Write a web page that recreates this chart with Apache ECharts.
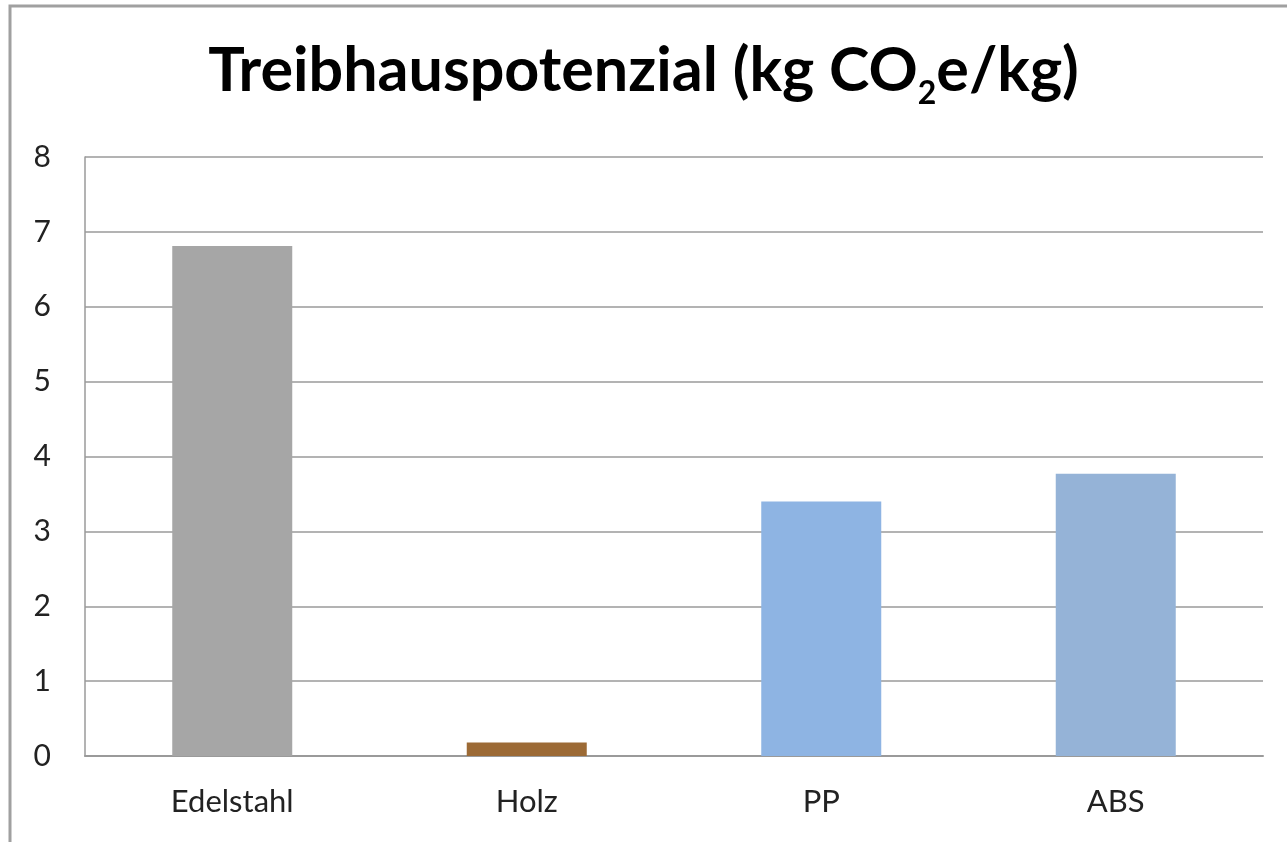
<!DOCTYPE html>
<html><head><meta charset="utf-8">
<script src="https://cdn.jsdelivr.net/npm/echarts@6/dist/echarts.min.js"></script>
<style>html,body{margin:0;padding:0;background:#fff}#c{width:1287px;height:842px}</style>
</head><body><div id="c"></div>
<script>
const categories = ['Edelstahl', 'Holz', 'PP', 'ABS'];
const values = [6.81, 0.18, 3.40, 3.77];
const barColors = ['#a6a6a6', '#9c6a35', '#8eb4e3', '#95b3d7'];
const yTicks = [0, 1, 2, 3, 4, 5, 6, 7, 8];

const chart = echarts.init(document.getElementById('c'), null, {renderer: 'canvas'});
chart.setOption({
  backgroundColor: '#fff',
  animation: false,
  graphic: [{
    type: 'rect', shape: {x: 10, y: 6, width: 1400, height: 900},
    style: {fill: 'none', stroke: '#a0a0a0', lineWidth: 3}, silent: true
  }],
  title: {
    text: 'Treibhauspotenzial (kg CO{s|2}e/kg)',
    left: 'center', top: 27,
    textStyle: {
      fontFamily: 'Lato', fontWeight: 'bold', fontSize: 61, color: '#000',
      rich: {
        s: {fontFamily: 'Lato', fontWeight: 'bold', fontSize: 32, color: '#000', verticalAlign: 'bottom', padding: [46, 0, 0, 0]}
      }
    }
  },
  grid: {left: 85, right: 24, top: 157, bottom: 86, containLabel: false},
  xAxis: {
    type: 'category', data: categories,
    axisLine: {show: true, lineStyle: {color: '#9a9a9a', width: 2}},
    axisTick: {show: false},
    axisLabel: {fontFamily: 'Lato', fontSize: 31, color: '#222', margin: 30}
  },
  yAxis: {
    type: 'value', min: 0, max: 8, interval: 1,
    axisLine: {show: true, lineStyle: {color: '#9a9a9a', width: 1.5}},
    axisTick: {show: false},
    splitLine: {lineStyle: {color: '#9a9a9a', width: 1.5}},
    axisLabel: {fontFamily: 'Lato', fontSize: 30, color: '#222', margin: 34,
      formatter: v => yTicks.includes(v) ? String(v) : ''}
  },
  series: [{
    type: 'bar', barWidth: 120,
    data: values.map((v, i) => ({value: v, itemStyle: {color: barColors[i]}})),
    z: 3
  }]
});
</script></body></html>
